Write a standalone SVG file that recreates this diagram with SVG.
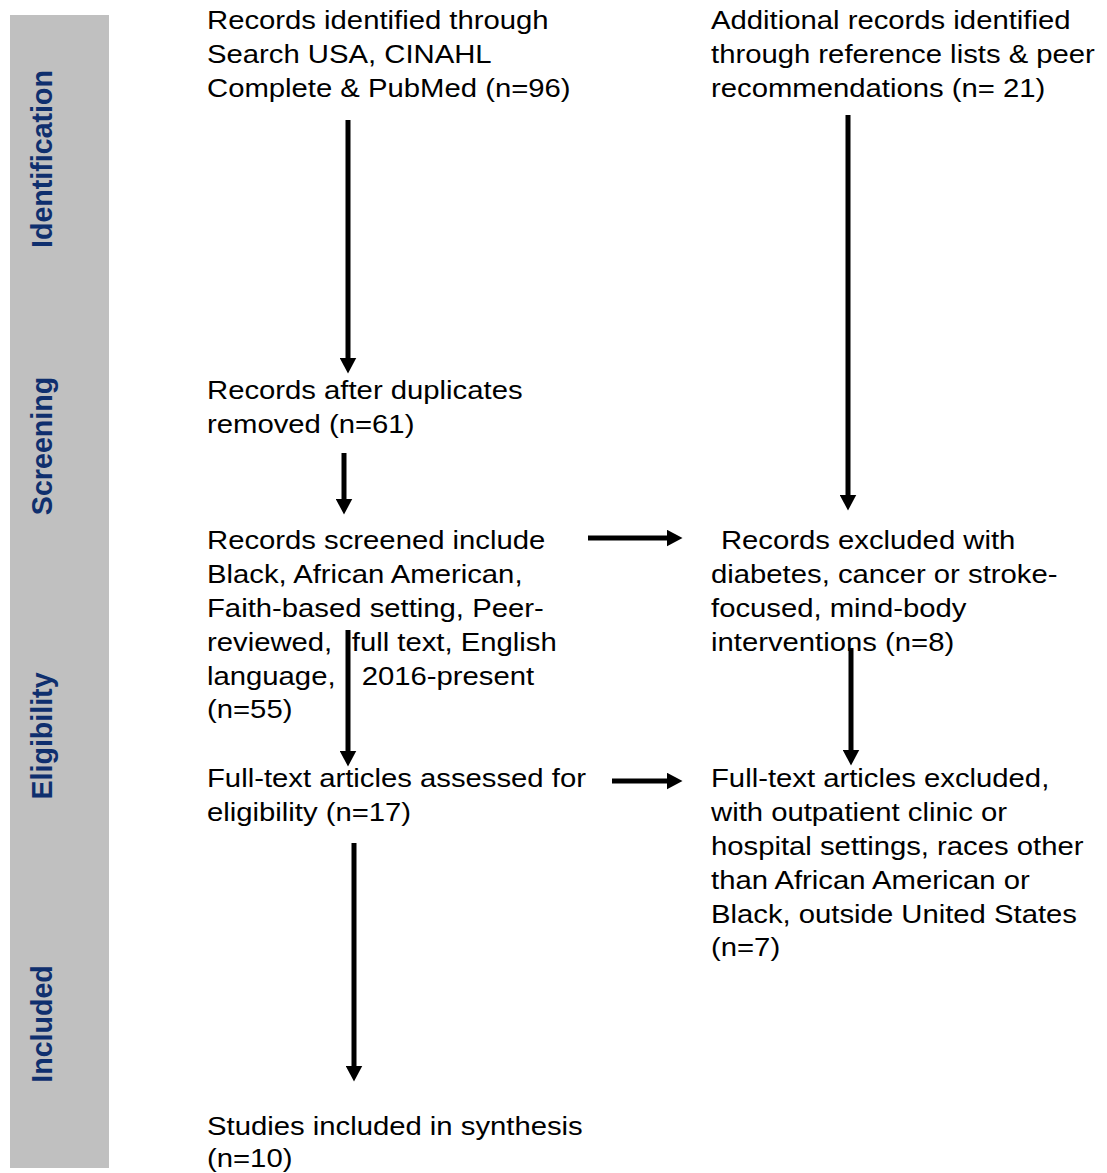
<svg xmlns="http://www.w3.org/2000/svg" width="1107" height="1173" viewBox="0 0 1107 1173">
<defs>
<style>
.t{font-family:"Liberation Sans",Arial,sans-serif;font-size:26.5px;fill:#000}
.s{font-family:"Liberation Sans",Arial,sans-serif;font-size:28.6px;font-weight:bold;fill:#0f2f6e;text-anchor:middle}
.c{stroke:#000;stroke-width:5;fill:none;marker-end:url(#ah)}
</style>
<marker id="ah" viewBox="0 0 16 17" refX="0.5" refY="8.5" markerWidth="16" markerHeight="17" markerUnits="userSpaceOnUse" orient="auto">
<path d="M0,0 L16,8.5 L0,17 Z" fill="#000"/>
</marker>
</defs>
<rect width="1107" height="1173" fill="#fff"/>
<g id="sidebar">
<rect x="10" y="15" width="99" height="1153" fill="#c0c0c0"/>
<text class="s" transform="translate(52 159) rotate(-90)">Identification</text>
<text class="s" transform="translate(52 446) rotate(-90)">Screening</text>
<text class="s" transform="translate(52 736) rotate(-90)">Eligibility</text>
<text class="s" transform="translate(52 1024) rotate(-90)">Included</text>
</g>
<g id="connectors">
<line class="c" x1="348" y1="120" x2="348" y2="358"/>
<line class="c" x1="344" y1="453" x2="344" y2="499"/>
<line class="c" x1="848" y1="115" x2="848" y2="495"/>
<line class="c" x1="588" y1="538" x2="667" y2="538"/>
<line class="c" x1="348" y1="630" x2="348" y2="751"/>
<line class="c" x1="612" y1="781" x2="667" y2="781"/>
<line class="c" x1="851" y1="648" x2="851" y2="750"/>
<line class="c" x1="354" y1="843" x2="354" y2="1066"/>
</g>
<g id="n1" transform="translate(207 0) scale(1.105 1)">
<text class="t" x="0" y="29">Records identified through</text>
<text class="t" x="0" y="63">Search USA, CINAHL</text>
<text class="t" x="0" y="97">Complete &amp; PubMed (n=96)</text>
</g>
<g id="n2" transform="translate(711 0) scale(1.105 1)">
<text class="t" x="0" y="29">Additional records identified</text>
<text class="t" x="0" y="63">through reference lists &amp; peer</text>
<text class="t" x="0" y="97">recommendations (n= 21)</text>
</g>
<g id="n3" transform="translate(207 0) scale(1.105 1)">
<text class="t" x="0" y="399">Records after duplicates</text>
<text class="t" x="0" y="433">removed (n=61)</text>
</g>
<g id="n4" transform="translate(207 0) scale(1.105 1)">
<text class="t" x="0" y="549">Records screened include</text>
<text class="t" x="0" y="583">Black, African American,</text>
<text class="t" x="0" y="617">Faith-based setting, Peer-</text>
<text class="t" x="0" y="651">reviewed,<tspan x="131">full text, English</tspan></text>
<text class="t" x="0" y="685">language,<tspan x="140">2016-present</tspan></text>
<text class="t" x="0" y="718">(n=55)</text>
</g>
<g id="n5" transform="translate(711 0) scale(1.105 1)">
<text class="t" x="9" y="549">Records excluded with</text>
<text class="t" x="0" y="583">diabetes, cancer or stroke-</text>
<text class="t" x="0" y="617">focused, mind-body</text>
<text class="t" x="0" y="651">interventions (n=8)</text>
</g>
<g id="n6" transform="translate(207 0) scale(1.105 1)">
<text class="t" x="0" y="787">Full-text articles assessed for</text>
<text class="t" x="0" y="821">eligibility (n=17)</text>
</g>
<g id="n7" transform="translate(711 0) scale(1.105 1)">
<text class="t" x="0" y="787">Full-text articles excluded,</text>
<text class="t" x="0" y="821">with outpatient clinic or</text>
<text class="t" x="0" y="855">hospital settings, races other</text>
<text class="t" x="0" y="889">than African American or</text>
<text class="t" x="0" y="923">Black, outside United States</text>
<text class="t" x="0" y="956">(n=7)</text>
</g>
<g id="n8" transform="translate(207 0) scale(1.105 1)">
<text class="t" x="0" y="1135">Studies included in synthesis</text>
<text class="t" x="0" y="1167">(n=10)</text>
</g>
</svg>
